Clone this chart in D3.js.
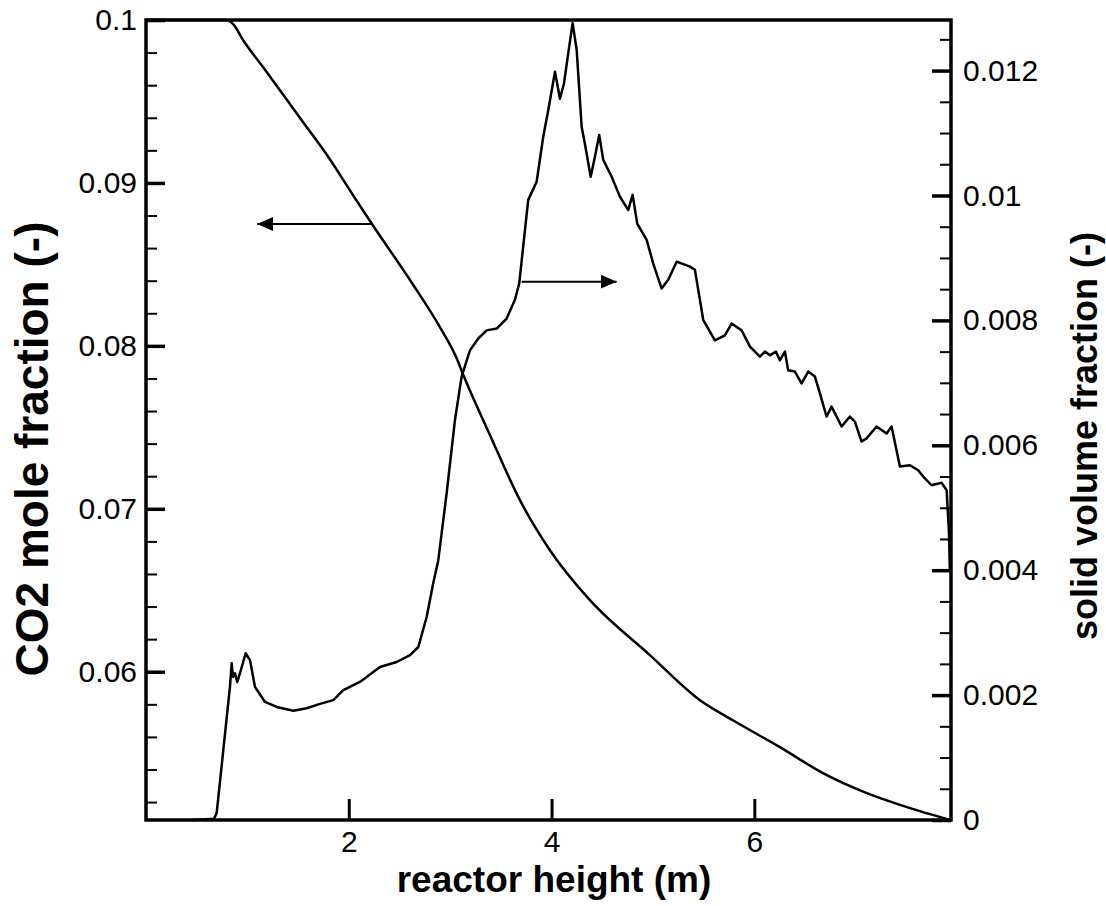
<!DOCTYPE html>
<html><head><meta charset="utf-8">
<script src="https://cdn.jsdelivr.net/npm/d3@7"></script>
<style>
body{margin:0;background:#fff}
svg{display:block}
text{font-family:"Liberation Sans",Arial,Helvetica,sans-serif;fill:#000}
</style>
</head><body>
<svg id="c" width="1106" height="906"></svg>
<script>
// ---- data ----
const co2X = [0, 0.78, 0.86, 0.957, 1.154, 1.391, 1.548, 1.785, 2.041, 2.229, 2.604, 2.899, 3.06, 3.126, 3.393, 3.688, 3.984, 4.379, 4.970, 5.464, 5.789, 6.252, 6.677, 7.110, 7.505, 7.939];
const co2Y = [0.1, 0.1, 0.09975, 0.09877, 0.09711, 0.09509, 0.09374, 0.09171, 0.08926, 0.08748, 0.08404, 0.08115, 0.0793, 0.07827, 0.07452, 0.07053, 0.06746, 0.06439, 0.06102, 0.05825, 0.05702, 0.05537, 0.05378, 0.05255, 0.05169, 0.05089];

const solidX = [0.454, 0.671, 0.697, 0.828, 0.845, 0.858, 0.878, 0.900, 0.927, 0.983, 1.026, 1.075, 1.174, 1.289, 1.453, 1.585, 1.716, 1.847, 1.946, 2.110, 2.308, 2.472, 2.604, 2.686, 2.768, 2.833, 2.883, 2.966, 3.047, 3.113, 3.195, 3.277, 3.360, 3.459, 3.557, 3.639, 3.681, 3.770, 3.853, 3.918, 3.968, 4.034, 4.083, 4.122, 4.165, 4.208, 4.248, 4.297, 4.329, 4.386, 4.428, 4.470, 4.510, 4.593, 4.675, 4.756, 4.800, 4.845, 4.938, 5.003, 5.086, 5.151, 5.234, 5.365, 5.414, 5.496, 5.611, 5.710, 5.776, 5.875, 5.957, 6.055, 6.105, 6.154, 6.213, 6.252, 6.302, 6.334, 6.400, 6.466, 6.532, 6.598, 6.647, 6.713, 6.762, 6.861, 6.943, 6.992, 7.058, 7.107, 7.206, 7.305, 7.354, 7.436, 7.535, 7.616, 7.666, 7.748, 7.847, 7.897, 7.919, 7.929];
const solidY = [0, 0.00002, 0.00011, 0.00213, 0.00251, 0.00229, 0.00235, 0.00221, 0.00235, 0.00267, 0.00256, 0.00213, 0.00189, 0.00181, 0.00175, 0.00179, 0.00186, 0.00192, 0.00208, 0.00221, 0.00245, 0.00253, 0.00264, 0.00277, 0.00325, 0.00379, 0.00416, 0.00524, 0.00640, 0.00710, 0.00752, 0.00771, 0.00784, 0.00787, 0.00803, 0.00833, 0.00859, 0.00993, 0.01022, 0.01094, 0.01137, 0.01198, 0.01155, 0.01179, 0.01228, 0.01276, 0.01233, 0.01110, 0.01083, 0.01030, 0.01062, 0.01097, 0.01057, 0.01030, 0.00998, 0.00977, 0.01001, 0.00955, 0.00929, 0.00891, 0.00851, 0.00865, 0.00894, 0.00886, 0.00881, 0.00801, 0.00768, 0.00776, 0.00795, 0.00784, 0.00758, 0.00742, 0.00750, 0.00744, 0.00750, 0.00736, 0.00750, 0.00720, 0.00718, 0.00699, 0.00718, 0.00710, 0.00683, 0.00646, 0.00662, 0.00630, 0.00646, 0.00638, 0.00606, 0.00611, 0.00630, 0.00619, 0.00630, 0.00566, 0.00568, 0.00560, 0.00550, 0.00536, 0.00540, 0.00528, 0.00464, 0.00400];

const xTickValues = [2, 4, 6];
const xTickLabels = ["2", "4", "6"];
const leftTickValues = [0.06, 0.07, 0.08, 0.09, 0.1];
const leftTickLabels = ["0.06", "0.07", "0.08", "0.09", "0.1"];
const leftMinorValues = [0.052, 0.054, 0.056, 0.058, 0.062, 0.064, 0.066, 0.068, 0.072, 0.074, 0.076, 0.078, 0.082, 0.084, 0.086, 0.088, 0.092, 0.094, 0.096, 0.098];
const rightTickValues = [0, 0.002, 0.004, 0.006, 0.008, 0.01, 0.012];
const rightTickLabels = ["0", "0.002", "0.004", "0.006", "0.008", "0.01", "0.012"];
const rightMinorValues = [0.0005, 0.001, 0.0015, 0.0025, 0.003, 0.0035, 0.0045, 0.005, 0.0055, 0.0065, 0.007, 0.0075, 0.0085, 0.009, 0.0095, 0.0105, 0.011, 0.0115, 0.0125];

const xTitle = "reactor height (m)";
const leftTitle = "CO2 mole fraction (-)";
const rightTitle = "solid volume fraction (-)";

// arrows: [x from, x to, y value] (left arrow in CO2 units, right arrow in solid units)
const leftArrow = [2.229, 1.095, 0.08748];
const rightArrow = [3.705, 4.642, 0.00862];

// ---- layout ----
const L = 146, R = 951, T = 20, B = 820;
const svg = d3.select("#c");

const x = d3.scaleLinear().domain([0, 7.94]).range([L, R]);
const yL = d3.scaleLinear().domain([0.0509, 0.1]).range([B, T]);
const yR = d3.scaleLinear().domain([0, 0.01281]).range([B, T]);

const tickFont = 30;

function styleAxis(g, w) {
  g.select(".domain").remove();
  g.selectAll(".tick line").attr("stroke", "#000").attr("stroke-width", w);
  g.selectAll(".tick text").attr("font-size", tickFont).attr("font-family", '"Liberation Sans",Arial,sans-serif').attr("fill", "#000");
}

// left axis
svg.append("g").attr("transform", `translate(${L},0)`)
  .call(d3.axisLeft(yL).tickValues(leftMinorValues).tickSize(-11).tickFormat(""))
  .call(g => styleAxis(g, 2));
svg.append("g").attr("transform", `translate(${L},0)`)
  .call(d3.axisLeft(yL).tickValues(leftTickValues).tickSize(-19).tickPadding(9)
    .tickFormat((d, i) => leftTickLabels[i]))
  .call(g => styleAxis(g, 3.5));

// right axis
svg.append("g").attr("transform", `translate(${R},0)`)
  .call(d3.axisRight(yR).tickValues(rightMinorValues).tickSize(-11).tickFormat(""))
  .call(g => styleAxis(g, 2));
svg.append("g").attr("transform", `translate(${R},0)`)
  .call(d3.axisRight(yR).tickValues(rightTickValues).tickSize(-19).tickPadding(12)
    .tickFormat((d, i) => rightTickLabels[i]))
  .call(g => styleAxis(g, 3.5));

// bottom axis
svg.append("g").attr("transform", `translate(0,${B})`)
  .call(d3.axisBottom(x).tickValues(xTickValues).tickSize(-21).tickPadding(11)
    .tickFormat((d, i) => xTickLabels[i]))
  .call(g => styleAxis(g, 3));

// frame
svg.append("rect").attr("x", L).attr("y", T).attr("width", R - L).attr("height", B - T)
  .attr("fill", "none").attr("stroke", "#000").attr("stroke-width", 3.5);

// curves
const co2Data = co2X.map((d, i) => [d, co2Y[i]]);
const solidData = solidX.map((d, i) => [d, solidY[i]]);

svg.append("path").datum(co2Data)
  .attr("fill", "none").attr("stroke", "#000").attr("stroke-width", 2.5)
  .attr("stroke-linejoin", "round")
  .attr("d", d3.line().x(d => x(d[0])).y(d => yL(d[1])).curve(d3.curveMonotoneX));

svg.append("path").datum(solidData)
  .attr("fill", "none").attr("stroke", "#000").attr("stroke-width", 2.5)
  .attr("stroke-linejoin", "round")
  .attr("d", d3.line().x(d => x(d[0])).y(d => yR(d[1])));

// arrows
const defs = svg.append("defs");
defs.append("marker").attr("id", "ah").attr("markerUnits", "userSpaceOnUse")
  .attr("markerWidth", 18).attr("markerHeight", 14).attr("refX", 16).attr("refY", 7)
  .attr("orient", "auto")
  .append("path").attr("d", "M0,0 L16,7 L0,14 Z").attr("fill", "#000");

svg.append("line")
  .attr("x1", x(leftArrow[0])).attr("x2", x(leftArrow[1]))
  .attr("y1", yL(leftArrow[2])).attr("y2", yL(leftArrow[2]))
  .attr("stroke", "#000").attr("stroke-width", 2).attr("marker-end", "url(#ah)");
svg.append("line")
  .attr("x1", x(rightArrow[0])).attr("x2", x(rightArrow[1]))
  .attr("y1", yR(rightArrow[2])).attr("y2", yR(rightArrow[2]))
  .attr("stroke", "#000").attr("stroke-width", 2).attr("marker-end", "url(#ah)");

// titles
svg.append("text").attr("x", 554).attr("y", 892).attr("text-anchor", "middle")
  .attr("font-size", 37).attr("font-weight", "bold").text(xTitle);
svg.append("text").attr("transform", "translate(48,449) rotate(-90)").attr("text-anchor", "middle")
  .attr("font-size", 46).attr("font-weight", "bold").text(leftTitle);
svg.append("text").attr("transform", "translate(1097,436) rotate(-90)").attr("text-anchor", "middle")
  .attr("font-size", 36).attr("font-weight", "bold").text(rightTitle);
</script>
</body></html>
